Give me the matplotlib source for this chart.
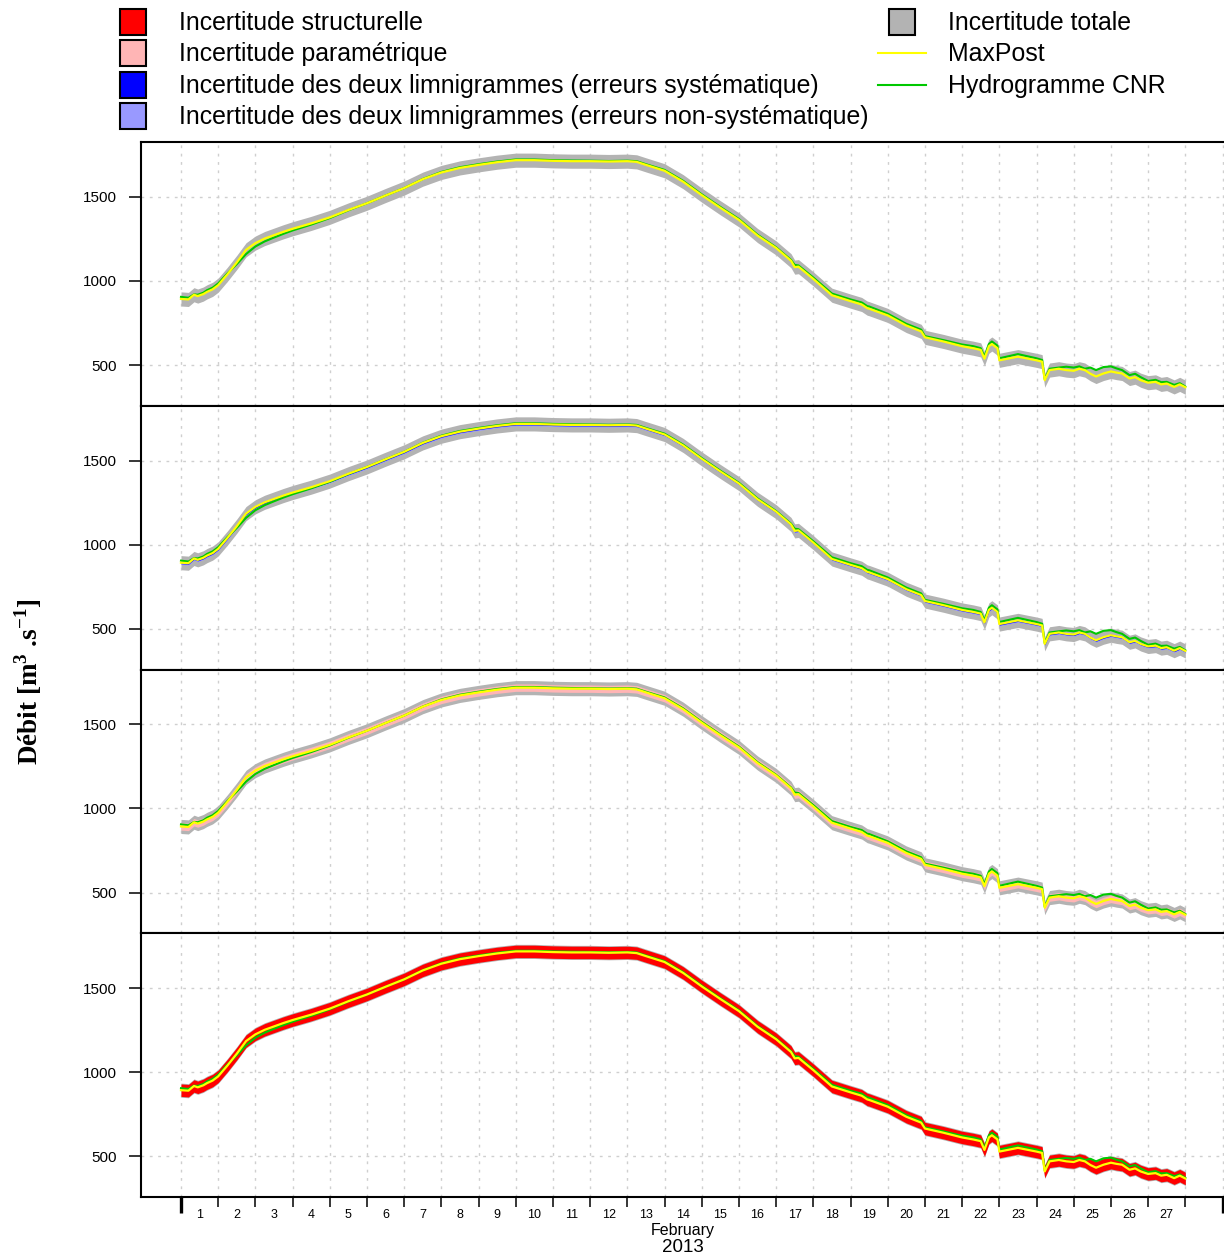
import matplotlib.pyplot as plt
from matplotlib import font_manager
from matplotlib.patches import Rectangle
from matplotlib.lines import Line2D
import numpy as np

# temps en jours depuis le 1er fevrier 2013 00:00
jours = [0.0, 0.2, 0.35, 0.45, 0.6, 0.7, 0.85, 1.0, 1.25, 1.5, 1.75, 2.0, 2.25, 2.5,
         2.75, 3.0, 3.5, 4.0, 4.5, 5.0, 5.5, 6.0, 6.5, 7.0, 7.5, 8.0, 8.5, 9.0, 9.5,
         10.0, 10.5, 11.0, 11.5, 12.0, 12.25, 12.5, 13.0, 13.5, 14.0, 14.5, 15.0,
         15.5, 16.0, 16.4, 16.5, 16.6, 17.0, 17.5, 18.0, 18.3, 18.45, 18.5, 19.0,
         19.5, 19.9, 20.0, 20.5, 21.0, 21.3, 21.5, 21.6, 21.72, 21.8, 21.95, 22.0,
         22.5, 23.0, 23.15, 23.22, 23.35, 23.6, 23.8, 24.0, 24.15, 24.3, 24.45, 24.6,
         24.8, 25.0, 25.15, 25.3, 25.5, 25.65, 25.8, 26.0, 26.2, 26.35, 26.5, 26.7,
         26.85, 27.0]

maxpost = [893, 890, 918, 910, 922, 935, 950, 975, 1040, 1110, 1185, 1225, 1252, 1272,
           1292, 1310, 1342, 1378, 1422, 1462, 1508, 1552, 1605, 1645, 1672, 1690, 1706,
           1718, 1718, 1714, 1712, 1712, 1710, 1712, 1708, 1690, 1655, 1590, 1510, 1435,
           1363, 1270, 1196, 1120, 1082, 1085, 1012, 915, 880, 860, 838, 835, 795, 735,
           700, 665, 640, 612, 600, 590, 538, 612, 625, 600, 528, 550, 528, 520, 410,
           470, 478, 470, 466, 478, 470, 448, 432, 450, 462, 455, 450, 420, 428, 410,
           395, 400, 385, 390, 370, 385, 368]

cnr = [905, 900, 920, 918, 930, 945, 960, 985, 1045, 1100, 1160, 1205, 1235, 1258,
       1280, 1300, 1335, 1374, 1420, 1462, 1508, 1552, 1606, 1648, 1676, 1694, 1710,
       1722, 1722, 1718, 1716, 1715, 1713, 1715, 1712, 1694, 1660, 1595, 1515, 1440,
       1368, 1275, 1200, 1125, 1095, 1092, 1020, 925, 890, 872, 850, 848, 805, 745,
       710, 672, 648, 622, 612, 600, 550, 625, 640, 615, 540, 565, 540, 530, 415,
       478, 485, 490, 485, 492, 478, 485, 470, 488, 492, 480, 470, 440, 448, 428,
       405, 412, 398, 400, 382, 392, 372]

# demi-largeurs des bandes d'incertitude (m3/s)
demi_totale = 42
demi_structurelle = 37
demi_parametrique = 22
demi_limni_nonsys = 11
demi_limni_sys = 6

jours_labels = [str(i) for i in range(1, 28)]

ROUGE = '#FF0000'
ROSE = '#FFB5B5'
BLEU = '#0000FF'
BLEU_CLAIR = '#9999FF'
GRIS = '#B3B3B3'
JAUNE = '#FFFF00'
VERT = '#00C800'

try:
    font_manager.findfont('Liberation Sans Narrow', fallback_to_default=False)
    police_leg, taille_leg = 'Liberation Sans Narrow', 21.5
except ValueError:
    police_leg, taille_leg = 'Liberation Sans', 17.95

plt.rcParams['font.family'] = 'Liberation Sans'
plt.rcParams['mathtext.fontset'] = 'custom'
plt.rcParams['mathtext.rm'] = 'Liberation Serif:bold'
plt.rcParams['mathtext.bf'] = 'Liberation Serif:bold'

W, H = 1224, 1256
fig, axes = plt.subplots(4, 1, sharex=True, figsize=(W / 100, H / 100), dpi=100,
                         gridspec_kw=dict(hspace=0))
fig.subplots_adjust(left=141 / W, right=1.0, top=1 - 142 / H, bottom=1 - 1197 / H)

x = np.array(jours)
mp = np.array(maxpost)

composantes = [
    [],
    [(demi_limni_nonsys, BLEU_CLAIR), (demi_limni_sys, BLEU)],
    [(demi_parametrique, ROSE)],
    [(demi_structurelle, ROUGE)],
]

for ax, comps in zip(axes, composantes):
    ax.fill_between(x, mp - demi_totale, mp + demi_totale, color=GRIS, lw=0, zorder=2)
    for demi, col in comps:
        ax.fill_between(x, mp - demi, mp + demi, color=col, lw=0, zorder=3)
    ax.plot(x, cnr, color=VERT, lw=1.5, zorder=4)
    ax.plot(x, maxpost, color=JAUNE, lw=1.6, zorder=5)

    ax.set_ylim(258, 1826)
    ax.set_xlim(-1.075, 28.04)
    ax.set_yticks([500, 1000, 1500])
    ax.tick_params(axis='y', length=8.6, width=1.1, pad=9, labelsize=11)
    ax.set_xticks(range(0, 29), minor=True)
    ax.grid(which='minor', axis='x', color='#CFCFCF', lw=1, linestyle=(0, (2, 4)))
    ax.grid(which='major', axis='y', color='#CFCFCF', lw=1, linestyle=(0, (2, 4)))
    ax.set_axisbelow(True)
    for s in ['left', 'top', 'bottom']:
        ax.spines[s].set_linewidth(1.5)
    ax.spines['right'].set_visible(False)
    ax.tick_params(axis='x', which='both', length=0, labelbottom=False)

ax4 = axes[-1]
ax4.set_xticks([d + 0.5 for d in range(27)], labels=jours_labels)
ax4.tick_params(axis='x', which='major', length=0, pad=9, labelsize=9, labelbottom=True)
ax4.tick_params(axis='x', which='minor', length=7.2, width=1.1)
mticks = ax4.xaxis.get_minor_ticks()
for t in (mticks[0], mticks[-1]):
    t.tick1line.set_markersize(11.5)
    t.tick1line.set_markeredgewidth(2.4)


def fx(px):
    return px / W


def fy(py):
    return 1 - py / H


fig.text(fx(683), fy(1231), 'February', ha='center', va='center', fontsize=11.5)
fig.text(fx(683), fy(1248), '2013', ha='center', va='center', fontsize=13.5)

fig.text(fx(28), fy(682), r'Débit [m$^{\mathbf{3}}$ .s$^{\mathbf{-1}}$]', rotation=90,
         ha='center', va='center', fontsize=19.5, family='Liberation Serif',
         fontweight='bold')

# legende
leg_gauche = [
    (ROUGE, 'Incertitude structurelle'),
    (ROSE, 'Incertitude paramétrique'),
    (BLEU, 'Incertitude des deux limnigrammes (erreurs systématique)'),
    (BLEU_CLAIR, 'Incertitude des deux limnigrammes (erreurs non-systématique)'),
]
rangs = [23, 54, 86, 117]
for (col, lab), r in zip(leg_gauche, rangs):
    fig.add_artist(Rectangle((fx(120), fy(r + 12)), 26 / W, 26 / H, transform=fig.transFigure,
                             facecolor=col, edgecolor='black', lw=1.5))
    fig.text(fx(179), fy(r), lab, ha='left', va='center', fontsize=taille_leg,
             family=police_leg)

fig.add_artist(Rectangle((fx(889), fy(23 + 12)), 26 / W, 26 / H, transform=fig.transFigure,
                         facecolor=GRIS, edgecolor='black', lw=1.5))
fig.text(fx(948), fy(23), 'Incertitude totale', ha='left', va='center',
         fontsize=taille_leg, family=police_leg)
for col, lab, r in [(JAUNE, 'MaxPost', 54), (VERT, 'Hydrogramme CNR', 86)]:
    fig.add_artist(Line2D([fx(878), fx(926)], [fy(r - 1), fy(r - 1)],
                          transform=fig.transFigure, color=col, lw=1.5))
    fig.text(fx(948), fy(r), lab, ha='left', va='center', fontsize=taille_leg,
             family=police_leg)

fig.savefig('out.png', dpi=100)
